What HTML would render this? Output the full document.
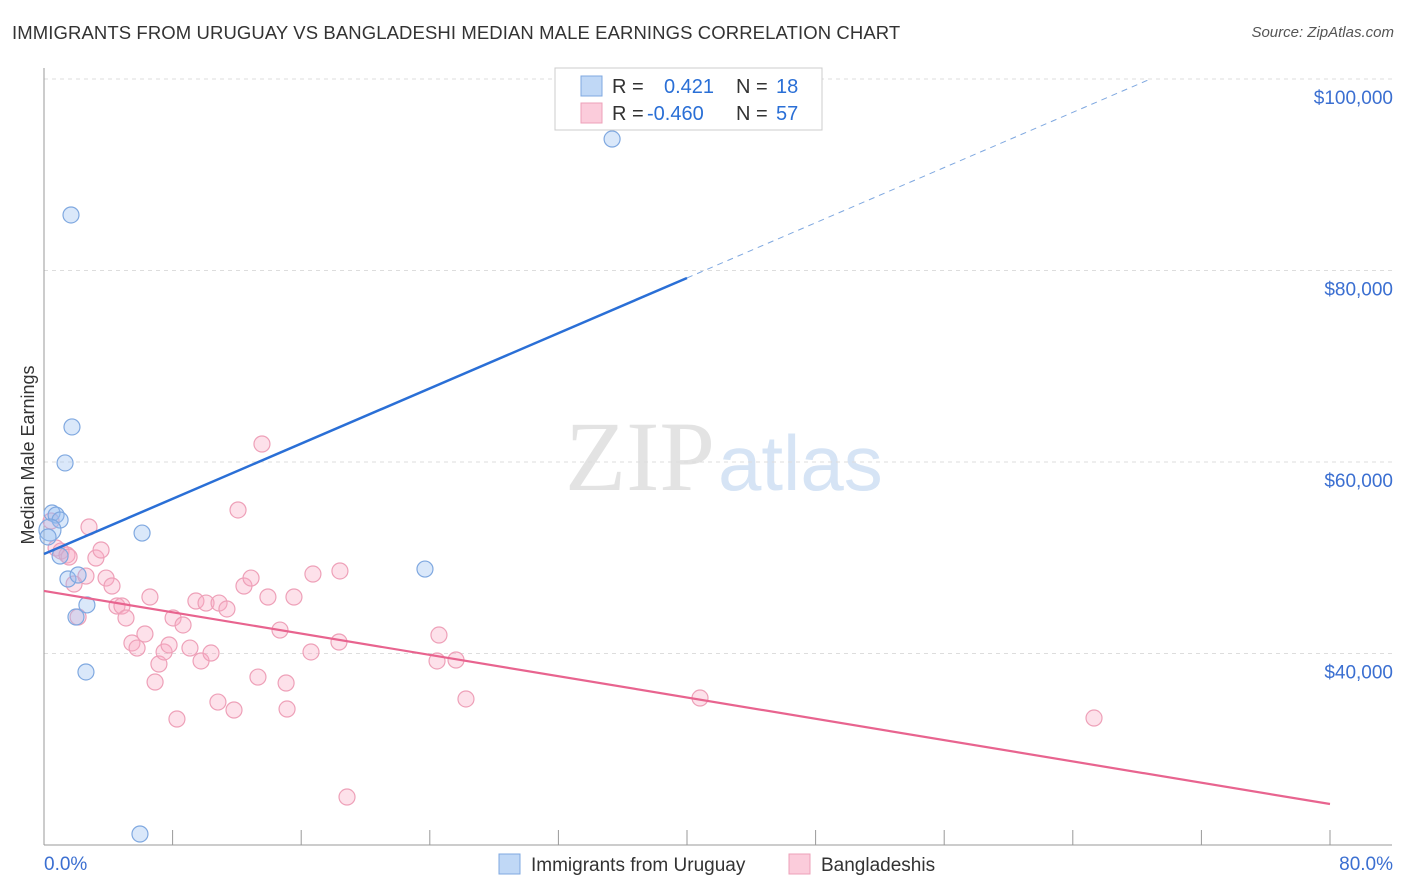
<!DOCTYPE html>
<html><head><meta charset="utf-8">
<style>
body{margin:0;background:#fff;font-family:"Liberation Sans",sans-serif;}
#wrap{position:relative;width:1406px;height:892px;overflow:hidden;}
.title{position:absolute;left:12px;top:22px;font-size:18.5px;color:#333;letter-spacing:0.1px}
.source{position:absolute;right:12px;top:24px;font-size:15px;color:#555;font-style:italic}
</style></head><body>
<div id="wrap">
<div class="title">IMMIGRANTS FROM URUGUAY VS BANGLADESHI MEDIAN MALE EARNINGS CORRELATION CHART</div>
<div class="source">Source: ZipAtlas.com</div>
<svg id="svg" width="1406" height="892" style="position:absolute;left:0;top:0">
<text x="715" y="490" font-family="Liberation Serif" font-size="100" fill="#e3e3e3" text-anchor="end">ZIP</text>
<text x="718" y="490" font-family="Liberation Sans" font-size="78" fill="#d6e4f5">atlas</text>
</svg>
</div>
<script>
const blueX=[35.34,1.68,1.74,1.31,0.50,0.75,1.00,0.37,0.25,6.10,1.00,1.49,2.12,2.67,1.99,2.61,23.70,5.97];
const blueY=[93730,85800,63660,59900,54670,54460,53940,52900,52170,52580,50180,47780,48200,45070,43810,38070,48820,21150];
const pinkX=[0.44,0.75,1.06,1.43,1.56,1.87,2.12,2.61,2.80,3.23,3.55,3.86,4.23,4.54,4.85,5.10,5.47,5.79,6.28,6.59,6.91,7.15,7.47,7.78,8.03,8.27,8.65,9.08,9.45,9.77,10.08,10.39,10.82,10.89,11.38,11.82,12.07,12.44,12.88,13.31,13.56,13.93,14.68,15.06,15.12,15.55,16.61,16.73,18.35,18.41,18.85,24.45,24.57,25.63,26.25,40.81,65.32];
const pinkY=[53840,51020,50700,50290,50080,47260,43810,48090,53210,49970,50810,47880,47050,44960,44960,43710,41100,40570,42040,45900,37020,38900,40160,40890,43710,33160,42980,40570,45480,39220,45270,40050,34930,45270,44650,34100,54990,47050,47880,37540,61880,45900,42450,36920,34200,45900,40160,48300,41200,48620,25010,39220,41930,39320,35250,35350,33260];
const yTicks=[40000,60000,80000,100000];
const yTickLabels=["$40,000","$60,000","$80,000","$100,000"];
const xEndLabels=["0.0%","80.0%"];
const blueTrend=[50390,79220];
const pinkTrend=[46530,24280];
const NS="http://www.w3.org/2000/svg";
const svg=document.getElementById('svg');
const X=v=>44+v/80*1286;
const Y=v=>79+(100000-v)/20000*191.5;
function mk(t,a){const e=document.createElementNS(NS,t);for(const k in a)e.setAttribute(k,a[k]);svg.appendChild(e);return e;}
yTicks.forEach((t,i)=>{
 const g=mk('line',{x1:44,x2:1392,y1:Y(t),y2:Y(t),stroke:'#ddd','stroke-dasharray':'4,4'});
 
 
 const l=mk('text',{x:1393,y:Y(t)+25,'text-anchor':'end','font-size':19,fill:'#3b6fd1'});
 l.textContent=yTickLabels[i];
 
 
});
const ax=mk('line',{x1:44,x2:44,y1:68,y2:845,stroke:'#999'});


const bx=mk('line',{x1:44,x2:1392,y1:845,y2:845,stroke:'#999'});


for(let i=1;i<=10;i++){const t=mk('line',{x1:X(i*8),x2:X(i*8),y1:830,y2:845,stroke:'#999'});
 
 }
[[0,'start',44],[1,'end',1393]].forEach(([i,a,x])=>{const t=mk('text',{x:x,y:870,'text-anchor':a,'font-size':19,fill:'#3b6fd1'});t.textContent=xEndLabels[i];
 
 });
const yt=mk('text',{x:34,y:455,'text-anchor':'middle','font-size':18,fill:'#333',transform:'rotate(-90 34 455)'});
yt.textContent='Median Male Earnings';


pinkX.forEach((x,i)=>{const c=mk('circle',{cx:X(x),cy:Y(pinkY[i]),r:8,fill:'rgba(248,170,195,0.35)',stroke:'#eea0b8','stroke-width':1.2});
 
 });
blueX.forEach((x,i)=>{const c=mk('circle',{cx:X(x),cy:Y(blueY[i]),r:i==7?11:8,fill:'rgba(150,190,240,0.35)',stroke:'#7fa8e0','stroke-width':1.2});
 
 });
const bs=(blueTrend[1]-blueTrend[0])/40;
const bl=mk('line',{x1:X(0),y1:Y(blueTrend[0]),x2:X(40),y2:Y(blueTrend[1]),stroke:'#2a6fd6','stroke-width':2.5});


const xe=(100000-blueTrend[0])/bs;
const bd=mk('line',{x1:X(40),y1:Y(blueTrend[1]),x2:X(xe),y2:Y(100000),stroke:'#7fa8e0','stroke-width':1,'stroke-dasharray':'6,5'});


const pl=mk('line',{x1:X(0),y1:Y(pinkTrend[0]),x2:X(80),y2:Y(pinkTrend[1]),stroke:'#e8648f','stroke-width':2.2});


const lb=mk('rect',{x:555,y:68,width:267,height:62,fill:'#fff',stroke:'#ccc'});


[['rgba(150,190,240,0.6)','#7fa8e0','0.421','18',86],['rgba(248,170,195,0.6)','#eea0b8','-0.460','57',113]].forEach(r=>{
 const s=mk('rect',{x:581,y:r[4]-10,width:21,height:20,fill:r[0],stroke:r[1]});
 
 
 const t=mk('text',{x:612,y:r[4]+7,'font-size':20,fill:'#333'});
 t.innerHTML='R = <tspan fill="#2a6fd6" x="'+(r[2][0]=='-'?647:664)+'">'+r[2]+'</tspan><tspan x="736">N = </tspan><tspan fill="#2a6fd6" x="776">'+r[3]+'</tspan>';
 
 
});
[[499,'rgba(150,190,240,0.6)','#7fa8e0','Immigrants from Uruguay'],[789,'rgba(248,170,195,0.6)','#eea0b8','Bangladeshis']].forEach(r=>{
 const s=mk('rect',{x:r[0],y:854,width:21,height:20,fill:r[1],stroke:r[2]});
 
 
 const t=mk('text',{x:r[0]+32,y:871,'font-size':19,fill:'#333'});
 t.textContent=r[3];
 
 
});
</script>
</body></html>
